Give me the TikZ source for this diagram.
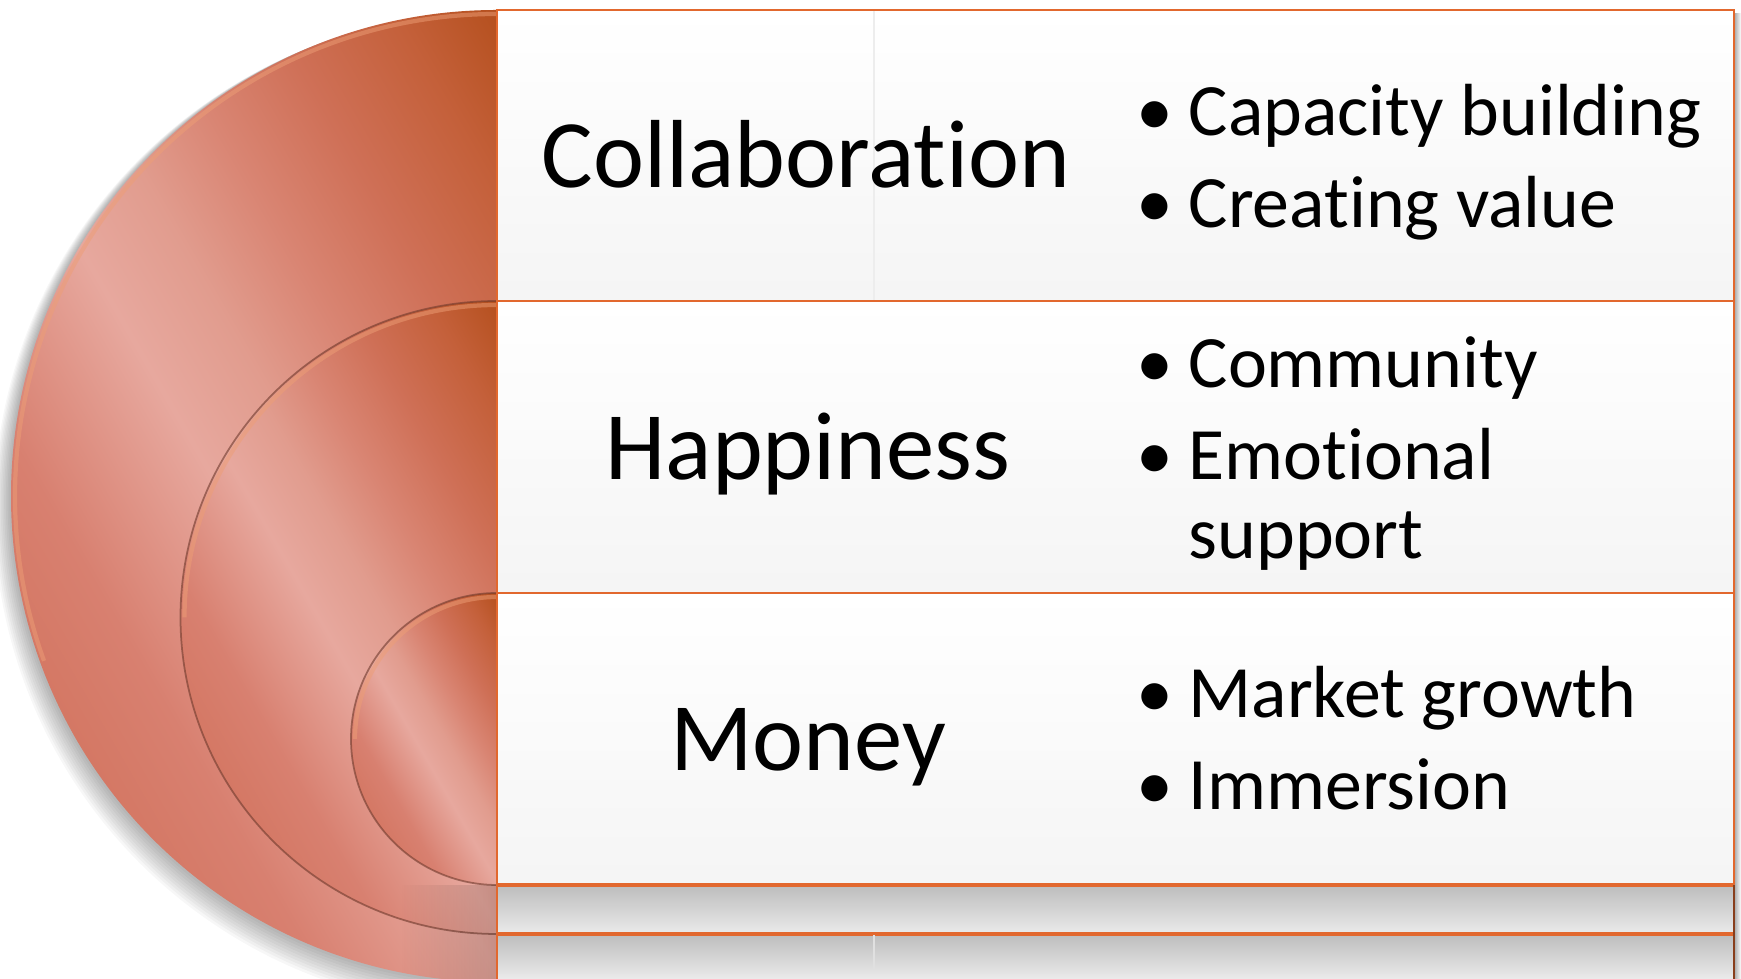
\documentclass[tikz,border=0pt]{standalone}
\usepackage{fontspec}
\setmainfont{Carlito}[Ligatures=NoCommon]
\usetikzlibrary{fadings}

\definecolor{rowline}{RGB}{226,104,46}
\definecolor{discA}{RGB}{201,106,82}
\definecolor{discB}{RGB}{211,117,96}
\definecolor{discC}{RGB}{216,128,112}
\definecolor{discE}{RGB}{231,168,158}
\definecolor{discF}{RGB}{225,156,142}
\definecolor{discG}{RGB}{217,133,115}
\definecolor{discH}{RGB}{207,112,87}
\definecolor{discI}{RGB}{196,96,58}
\definecolor{discD}{RGB}{181,80,30}
\pgfdeclarehorizontalshading{discshade}{100bp}{color(0bp)=(discA); color(25bp)=(discA); color(33bp)=(discB); color(40bp)=(discC); color(48.5bp)=(discE); color(53.5bp)=(discF); color(58.5bp)=(discG); color(64bp)=(discH); color(70bp)=(discI); color(75bp)=(discD); color(100bp)=(discD)}
\newcommand{\bul}{\makebox[0.45cm][l]{\hspace{-0.07cm}\textbullet}}

\begin{document}
\begin{tikzpicture}[x=0.01cm, y=0.01cm]
		\tikzstyle{Row} = [draw=rowline, line width=0.6pt, top color=white, bottom color=black!4]
		\tikzstyle{Band} = [top color=black!26, bottom color=black!8]
		\tikzstyle{Disc} = [shading=discshade]
		\tikzstyle{Rim} = [draw=discA!55!black, line width=0.5pt, opacity=0.6]
		\tikzstyle{Glint} = [draw=discE!75!orange, line width=1.2pt, opacity=0.5]
		\tikzstyle{Label} = [anchor=base, inner sep=0pt, font=\fontsize{27.5}{33}\selectfont]
		\tikzstyle{Bullets} = [anchor=base west, inner sep=0pt, font=\fontsize{21}{22.5}\selectfont]
		
		\useasboundingbox (0,0) rectangle (1741,979);
		\fill [white] (0,0) rectangle (1741,979);
		
		% soft shadow of the big disc
		\begin{scope}
		\clip (0,0) rectangle (497,979);
		\foreach \s in {1,...,10}
		\fill [black, opacity=0.03] (497-0.5*\s, 483-1.5*\s) circle ({486+1.2*\s});
		\end{scope}
		
		% big disc
		\begin{scope}
		\clip (497,969) arc [start angle=90, end angle=270, radius=486] -- cycle;
		\begin{scope}[transform canvas={rotate around={30:(254,483)}}]
		\shade [Disc] (254-453.5,483-545) rectangle (254+453.5,483+545);
		\end{scope}
		\end{scope}
		\draw [Glint] (497,965) arc [start angle=90, end angle=200, radius=482];
		
		% middle disc
		\begin{scope}
		\clip (497,678) arc [start angle=90, end angle=270, radius=316.5] -- cycle;
		\begin{scope}[transform canvas={rotate around={30:(338.75,361.5)}}]
		\shade [Disc] (338.75-295.3,361.5-355) rectangle (338.75+295.3,361.5+355);
		\end{scope}
		\end{scope}
		\draw [Rim] (497,678) arc [start angle=90, end angle=270, radius=316.5];
		\draw [Glint] (497,674) arc [start angle=90, end angle=180, radius=312.5];
		
		% small disc
		\begin{scope}
		\clip (497,386) arc [start angle=90, end angle=270, radius=146] -- cycle;
		\begin{scope}[transform canvas={rotate around={30:(424,240)}}]
		\shade [Disc] (424-136.2,240-165) rectangle (424+136.2,240+165);
		\end{scope}
		\end{scope}
		\draw [Rim] (497,386) arc [start angle=90, end angle=270, radius=146];
		\draw [Glint] (497,382) arc [start angle=90, end angle=180, radius=142];
		
		% shadow of the rows on the discs
		\begin{scope}
		\clip (497,969) arc [start angle=90, end angle=270, radius=486] -- cycle;
		\fill [black, opacity=0.14, path fading=west] (400,0) rectangle (497,94);
		\end{scope}
		
		% rows
		\draw [Row] (497,678) rectangle (1734,969);
		\draw [Row] (497,386) rectangle (1734,678);
		\draw [Row] (497,94) rectangle (1734,386);
		\shade [Band] (497,45) rectangle (1734,94);
		\shade [Band] (497,0) rectangle (1734,45);
		\draw [rowline, line width=1pt] (497,94) -- (1734,94);
		\draw [rowline, line width=1pt] (497,45) -- (1734,45);
		\draw [rowline, line width=0.6pt] (497,0) -- (497,94);
		\draw [rowline!60!black, line width=0.6pt] (1734,0) -- (1734,94);
		\shade [left color=black!30, right color=white] (1735,0) rectangle (1741,965);
		\draw [black!7, line width=0.4pt] (874,679) -- (874,968);
		\draw [black!12, line width=0.4pt] (874,10) -- (874,44);
		
		% labels
		\node (collab) [Label] at (806,791) {Collaboration};
		\node (happy) [Label] at (808,499) {Happiness};
		\node (money) [Label] at (808,208) {Money};
		
		\node (collabList) [Bullets] at (1143,843) {\begin{tabular}[t]{@{}l@{}l@{}}
			\bul & Capacity building\\[3.4pt]
			\bul & Creating value
		\end{tabular}};
		\node (happyList) [Bullets] at (1143,591) {\begin{tabular}[t]{@{}l@{}l@{}}
			\bul & Community\\[3.4pt]
			\bul & Emotional\\
			& support
		\end{tabular}};
		\node (moneyList) [Bullets] at (1143,261) {\begin{tabular}[t]{@{}l@{}l@{}}
			\bul & Market growth\\[3.4pt]
			\bul & Immersion
		\end{tabular}};
\end{tikzpicture}
\end{document}
